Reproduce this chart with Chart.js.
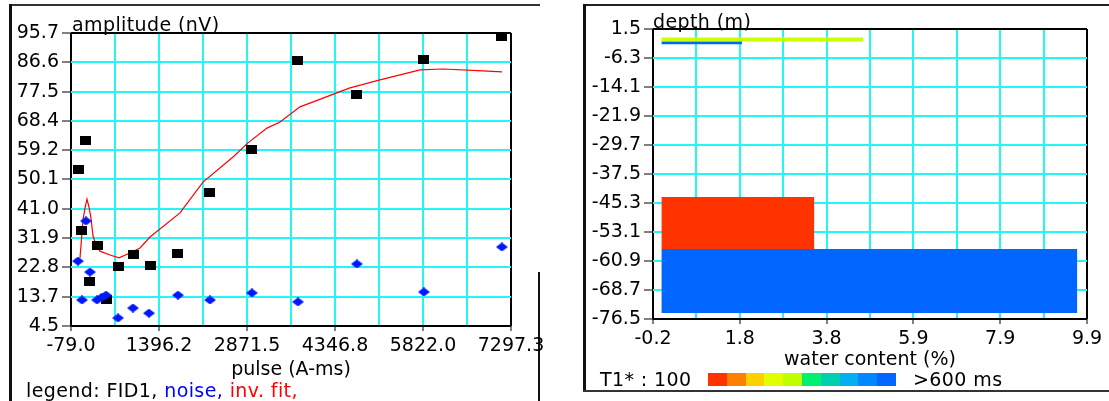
<!DOCTYPE html>
<html><head><meta charset="utf-8">
<script src="https://cdn.jsdelivr.net/npm/chart.js@4.4.1/dist/chart.umd.min.js"></script>
<style>
html,body{margin:0;padding:0;background:#fff;}
#page{position:relative;width:1109px;height:401px;overflow:hidden;font-family:'DejaVu Sans',sans-serif;font-size:19px;color:#000;}
.abs{position:absolute;}
.t{position:absolute;line-height:20px;white-space:nowrap;letter-spacing:0.4px;}
#bar{position:absolute;left:708px;top:373px;width:188px;height:13px;display:flex;}
#bar div{flex:1 1 0;height:13px;}
</style></head>
<body><div id="page">
<div class="abs" style="left:9px;top:4px;width:531px;height:2px;background:#333"></div>
<div class="abs" style="left:9px;top:4px;width:3px;height:397px;background:#111"></div>
<div class="abs" style="left:538px;top:272px;width:2px;height:129px;background:#111"></div>
<div class="abs" style="left:583px;top:4px;width:526px;height:2px;background:#222"></div>
<div class="abs" style="left:583px;top:4px;width:3px;height:388px;background:#111"></div>
<div class="abs" style="left:583px;top:390px;width:526px;height:2px;background:#333"></div>
<canvas id="c1" class="abs" style="left:12px;top:6px" width="545" height="395"></canvas>
<canvas id="c2" class="abs" style="left:586px;top:6px" width="523" height="384"></canvas>
<div class="t" style="left:72px;top:14px">amplitude (nV)</div>
<div class="t" style="left:26px;top:380px">legend: FID1, <span style="color:#0000ff">noise,</span> <span style="color:#ff0000">inv. fit,</span></div>
<div class="t" style="left:653px;top:11px">depth (m)</div>
<div class="t" style="left:600px;top:369px">T1* : 100</div>
<div id="bar"></div>
<div class="t" style="left:913px;top:369px">&gt;600 ms</div>
</div>
<script>
// ---- left chart data ----
const pulseFID = [55, 89, 172, 239, 357, 517, 709, 977, 1261, 1714, 2251, 2954, 3726, 4714, 5837, 7145];
const ampFID   = [53.1, 34.1, 62.1, 18.2, 29.7, 12.8, 22.9, 26.9, 23.2, 27.2, 46.2, 59.3, 87.0, 76.7, 87.6, 94.5];
const pulseNoise = [38, 105, 172, 239, 357, 441, 508, 709, 960, 1228, 1714, 2251, 2954, 3726, 4714, 5837, 7145];
const ampNoise   = [24.7, 12.6, 37.2, 21.3, 12.6, 13.5, 14.1, 7.0, 10.1, 8.5, 14.1, 12.6, 14.8, 12.0, 23.8, 15.1, 29.1];
const pulseFit = [72, 122, 156, 189, 223, 256, 290, 340, 407, 575, 726, 910, 1078, 1245, 1748, 2134, 2637, 2888, 3207, 3425, 3760, 4598, 5101, 5772, 6157, 6828, 7146];
const ampFit   = [25.7, 37.5, 41.2, 44.0, 41.5, 38.1, 32.5, 29.7, 27.8, 26.6, 25.7, 27.2, 28.8, 32.2, 39.7, 49.3, 57.1, 61.5, 66.1, 68.0, 72.7, 78.6, 81.1, 84.2, 84.5, 83.9, 83.6];
const pulseTickLabels = ['-79.0', '1396.2', '2871.5', '4346.8', '5822.0', '7297.3'];
const ampTickLabels = ['4.5', '13.7', '22.8', '31.9', '41.0', '50.1', '59.2', '68.4', '77.5', '86.6', '95.7'];

// ---- right chart data ----
const waterTickLabels = ['-0.2', '1.8', '3.8', '5.9', '7.9', '9.9'];
const depthTickLabels = ['-76.5', '-68.7', '-60.9', '-53.1', '-45.3', '-37.5', '-29.7', '-21.9', '-14.1', '-6.3', '1.5'];
const layerTop    = [-43.7, -57.7];
const layerBottom = [-57.7, -74.9];
const layerWater  = [3.55, 9.67];
const layerColor  = ['#ff3300', '#0066ff'];
const topLineDepth = [-1.3, -2.2];
const topLineWater = [4.69, 1.87];
const topLineColor = ['#ccff00', '#0066ff'];
const topLineWidth = [4, 3];
const t1Colors = ['#ff3300', '#ff8000', '#ffd000', '#e2ff00', '#c0ff00', '#00f070', '#00d0b0', '#00b0f0', '#0088ff', '#0066ff'];

// colour legend cells
const bar = document.getElementById('bar');
t1Colors.forEach(c => { const d = document.createElement('div'); d.style.background = c; bar.appendChild(d); });

Chart.defaults.font.family = "'DejaVu Sans', sans-serif";
Chart.defaults.font.size = 19;
Chart.defaults.color = '#000';

const CYAN = '#22f6f6';
const gridColor = n => c => (c.index === 0 || c.index === n) ? '#000' : CYAN;
const xy = (xs, ys) => xs.map((x, i) => ({x: x, y: ys[i]}));

function makeRect(w, h, fill) {
  const c = document.createElement('canvas'); c.width = w; c.height = h;
  const g = c.getContext('2d'); g.fillStyle = fill; g.fillRect(0, 0, w, h); return c;
}
function makeDiamond(w, h, fill) {
  const c = document.createElement('canvas'); c.width = w; c.height = h;
  const g = c.getContext('2d'); g.fillStyle = fill;
  g.beginPath(); g.moveTo(w / 2, 0); g.lineTo(w, h / 2); g.lineTo(w / 2, h); g.lineTo(0, h / 2); g.closePath(); g.fill();
  return c;
}
const squareImg = makeRect(11, 9, '#000');
const diamondImg = makeDiamond(12, 9, '#0018ff');

const common = {
  responsive: false, animation: false, devicePixelRatio: 1, events: [],
  plugins: {legend: {display: false}, tooltip: {enabled: false}}
};

new Chart(document.getElementById('c1'), {
  type: 'scatter',
  data: {datasets: [
    {label: 'noise', data: xy(pulseNoise, ampNoise), pointStyle: diamondImg, pointRadius: 5, clip: false},
    {label: 'FID1', data: xy(pulseFID, ampFID), pointStyle: squareImg, pointRadius: 5, clip: false},
    {label: 'inv. fit', data: xy(pulseFit, ampFit), showLine: true, borderColor: '#ff0000', borderWidth: 1.2, pointRadius: 0, fill: false}
  ]},
  options: Object.assign({}, common, {
    layout: {padding: {left: 0, top: 27, right: 46, bottom: 0}},
    scales: {
      x: {type: 'linear', min: parseFloat(pulseTickLabels[0]), max: parseFloat(pulseTickLabels[pulseTickLabels.length - 1]),
        afterFit: s => { s.height = 75; },
        ticks: {count: 11, autoSkip: false, maxRotation: 0, padding: 4, callback: (v, i) => i % 2 === 0 ? pulseTickLabels[i / 2] : ''},
        grid: {color: gridColor(10), lineWidth: 2, tickLength: 5, tickWidth: 1, tickColor: c => c.index % 2 === 0 ? '#000' : 'rgba(0,0,0,0)'},
        border: {display: false},
        title: {display: true, text: 'pulse (A-ms)', padding: {top: 0, bottom: 20}}},
      y: {type: 'linear', min: parseFloat(ampTickLabels[0]), max: parseFloat(ampTickLabels[ampTickLabels.length - 1]),
        afterFit: s => { s.width = 59; },
        ticks: {count: 11, autoSkip: false, padding: 3, callback: (v, i) => ampTickLabels[i]},
        grid: {color: gridColor(10), lineWidth: 2, tickLength: 9, tickWidth: 1, tickColor: '#000'},
        border: {display: false}}
    }
  })
});

const rightSets = [];
layerWater.forEach((w, i) => {
  rightSets.push({
    data: [{x: 0, y: layerTop[i]}, {x: w, y: layerTop[i]}, {x: w, y: layerBottom[i]}, {x: 0, y: layerBottom[i]}, {x: 0, y: layerTop[i]}],
    showLine: true, fill: 'shape', backgroundColor: layerColor[i], borderColor: 'rgba(0,0,0,0)', borderWidth: 1, pointRadius: 0
  });
});
topLineDepth.forEach((d, i) => {
  rightSets.push({
    data: [{x: 0, y: d}, {x: topLineWater[i], y: d}],
    showLine: true, fill: false, borderColor: topLineColor[i], borderWidth: topLineWidth[i], borderCapStyle: 'butt', pointRadius: 0
  });
});

new Chart(document.getElementById('c2'), {
  type: 'scatter',
  data: {datasets: rightSets},
  options: Object.assign({}, common, {
    layout: {padding: {left: 0, top: 23, right: 22, bottom: 0}},
    scales: {
      x: {type: 'linear', min: parseFloat(waterTickLabels[0]), max: parseFloat(waterTickLabels[waterTickLabels.length - 1]),
        afterFit: s => { s.height = 71; },
        ticks: {count: 11, autoSkip: false, maxRotation: 0, padding: 4, callback: (v, i) => i % 2 === 0 ? waterTickLabels[i / 2] : ''},
        grid: {color: gridColor(10), lineWidth: 2, tickLength: 5, tickWidth: 1, tickColor: c => c.index % 2 === 0 ? '#000' : 'rgba(0,0,0,0)'},
        border: {display: false},
        title: {display: true, text: 'water content (%)', padding: {top: 0, bottom: 19}}},
      y: {type: 'linear', min: parseFloat(depthTickLabels[0]), max: parseFloat(depthTickLabels[depthTickLabels.length - 1]),
        afterFit: s => { s.width = 67; },
        ticks: {count: 11, autoSkip: false, padding: 3, callback: (v, i) => depthTickLabels[i]},
        grid: {color: gridColor(10), lineWidth: 2, tickLength: 9, tickWidth: 1, tickColor: '#000'},
        border: {display: false}}
    }
  })
});
</script>
</body></html>
